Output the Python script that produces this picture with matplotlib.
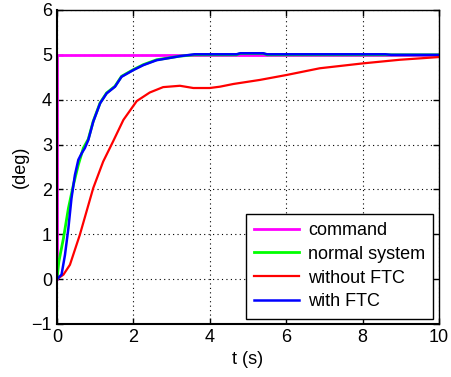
import matplotlib
matplotlib.use("Agg")
import matplotlib.pyplot as plt

plt.rcParams['font.family'] = ['Liberation Sans', 'DejaVu Sans']

cmd_t = [0, 0, 10]
cmd_y = [0, 5, 5]

normal_t = [0, 0.05, 0.17, 0.30, 0.43, 0.56, 0.69, 0.82, 0.95, 1.13, 1.30, 1.52, 1.69, 2.0, 2.26, 2.61, 3.22, 3.6, 4.7, 4.8, 5.4, 5.5, 8.7, 8.8, 10]
normal_y = [0, 0.39, 0.91, 1.58, 2.10, 2.55, 2.92, 3.12, 3.52, 3.93, 4.15, 4.30, 4.52, 4.67, 4.78, 4.89, 4.97, 5.0, 5.0, 5.03, 5.03, 5.0, 5.0, 5.0, 5.0]

without_t = [0, 0.17, 0.34, 0.60, 0.95, 1.21, 1.47, 1.74, 2.09, 2.43, 2.78, 3.22, 3.57, 4.0, 4.27, 4.62, 5.31, 6.01, 6.88, 8.02, 8.98, 10]
without_y = [0, 0.10, 0.32, 0.99, 2.03, 2.62, 3.07, 3.55, 3.97, 4.16, 4.28, 4.31, 4.26, 4.26, 4.29, 4.35, 4.44, 4.55, 4.70, 4.81, 4.89, 4.95]

with_t = [0, 0.12, 0.21, 0.30, 0.38, 0.47, 0.56, 0.65, 0.73, 0.82, 0.95, 1.13, 1.30, 1.52, 1.69, 2.0, 2.26, 2.61, 3.22, 3.6, 4.7, 4.8, 5.4, 5.5, 8.6, 8.75, 10]
with_y = [0, 0.10, 0.54, 1.14, 1.80, 2.32, 2.66, 2.81, 2.92, 3.10, 3.51, 3.92, 4.14, 4.29, 4.51, 4.66, 4.77, 4.88, 4.97, 5.012, 5.012, 5.035, 5.035, 5.012, 5.012, 5.0, 5.0]

xticks = [0, 2, 4, 6, 8, 10]
yticks = [-1, 0, 1, 2, 3, 4, 5, 6]

fig = plt.figure(figsize=(4.52, 3.77), dpi=100)
ax = fig.add_axes([0.126, 0.1406, 0.845, 0.833])

ax.plot(cmd_t, cmd_y, color='#ff00ff', lw=2, label='command')
ax.plot(normal_t, normal_y, color='#00ff00', lw=2, label='normal system')
ax.plot(without_t, without_y, color='#ff0000', lw=1.6, label='without FTC')
ax.plot(with_t, with_y, color='#0000ff', lw=1.8, label='with FTC')

ax.set_xlim(0, 10)
ax.set_ylim(-1, 6)
ax.set_xticks(xticks)
ax.set_yticks(yticks)
ax.set_yticklabels(['\u22121' if v == -1 else str(v) for v in yticks])
ax.tick_params(direction='in', labelsize=13, length=4, width=1, top=True, right=True,
               labeltop=False, labelright=False)
ax.grid(True, color='black', linestyle=(0, (1, 3)), linewidth=0.8)
for s in ax.spines.values():
    s.set_linewidth(1.5)
    s.set_color('black')
ax.spines['top'].set_linewidth(1.0)
ax.spines['right'].set_linewidth(1.0)

ax.set_xlabel('t (s)', fontsize=13, labelpad=4)
ax.set_ylabel('(deg)', fontsize=13, labelpad=2)

leg = ax.legend(loc='lower right', fontsize=13, frameon=True, fancybox=False,
                edgecolor='black', framealpha=1, handlelength=2.5, borderpad=0.45,
                labelspacing=0.38, handletextpad=0.5, borderaxespad=0.3)
leg.get_frame().set_linewidth(1.0)

fig.savefig('out.png', dpi=100)
